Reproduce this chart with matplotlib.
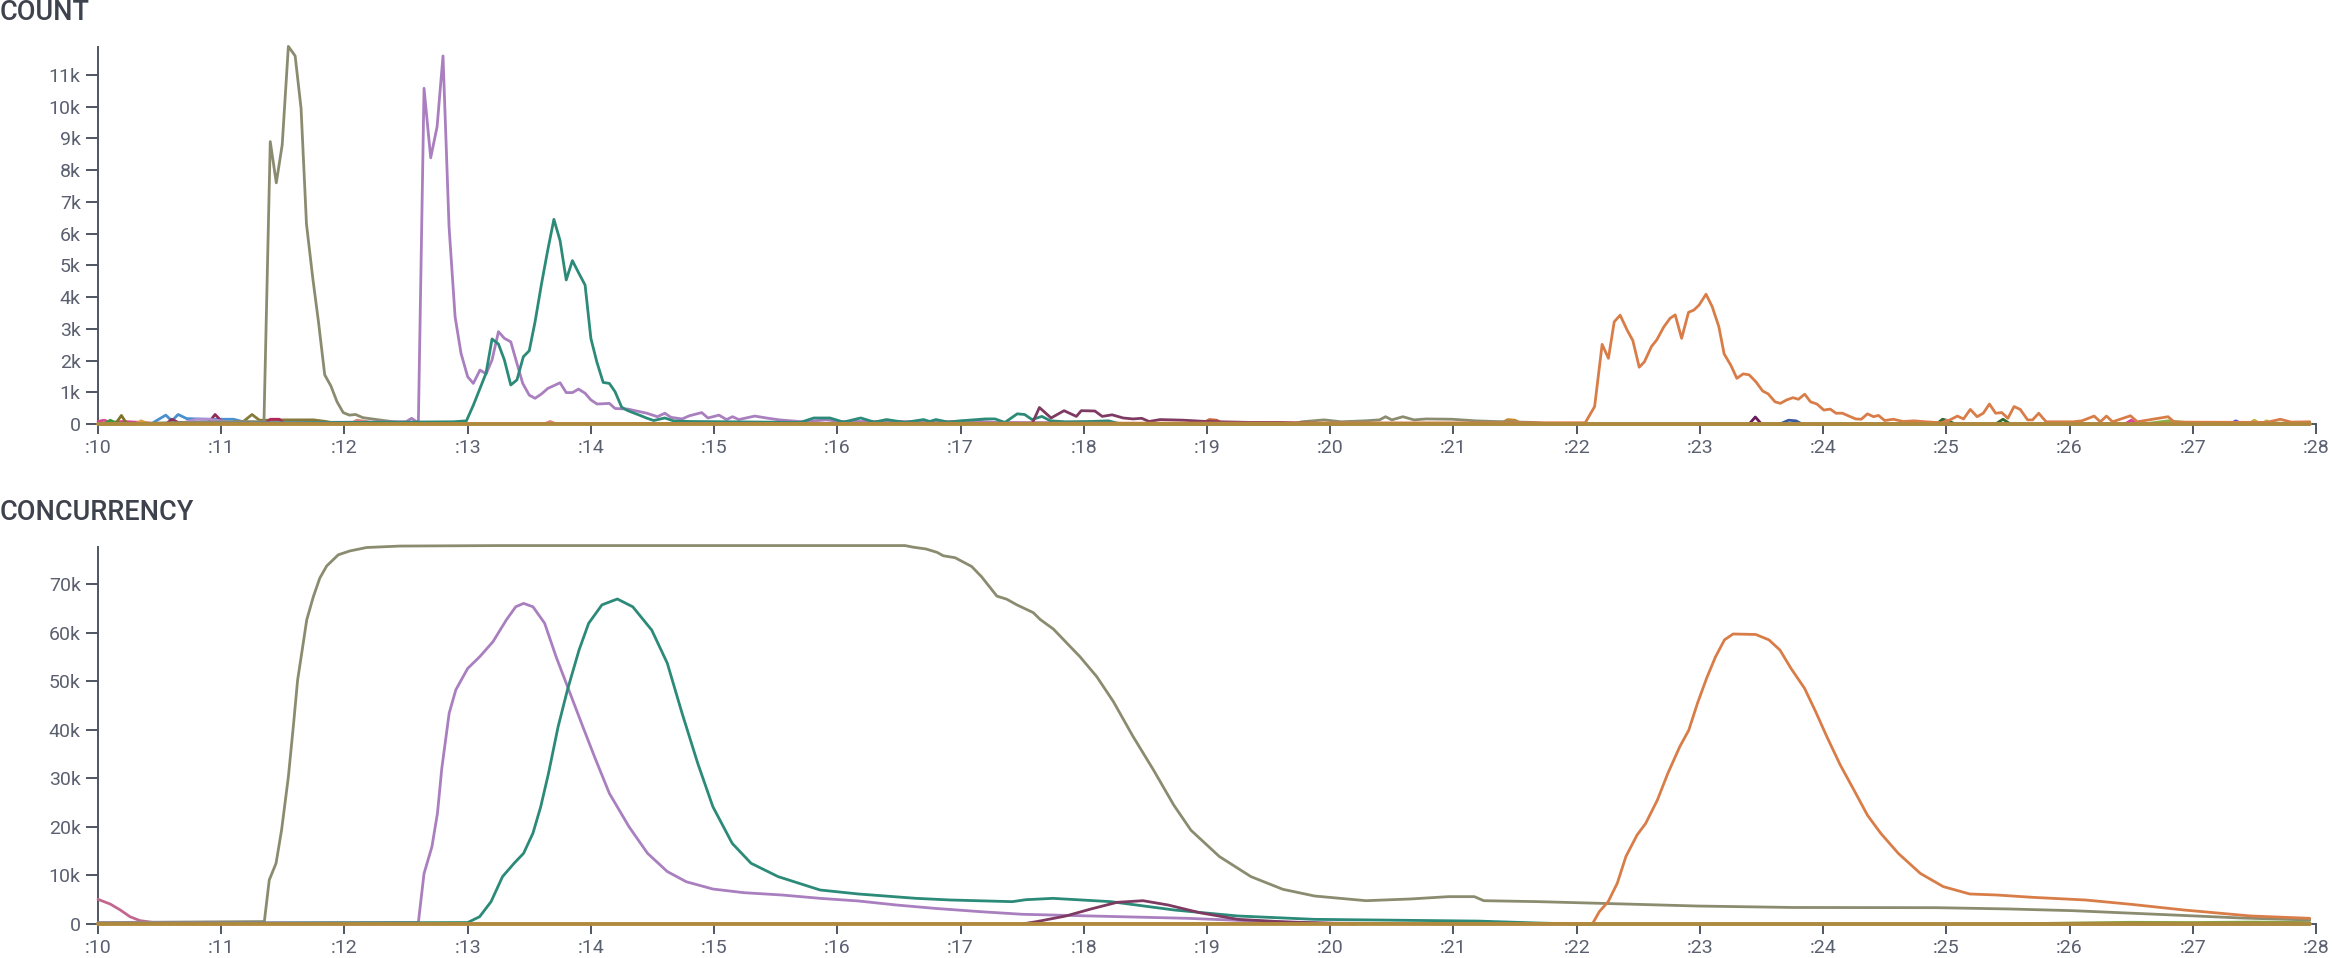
import matplotlib.pyplot as plt
from matplotlib.ticker import FuncFormatter

plt.rcParams['font.family'] = ['Roboto', 'DejaVu Sans']

# time is in minutes past the hour, values are in thousands

# ---- COUNT panel ----
count_olive = [(10.0, 0), (11.2, 0.08), (11.347, 0.07), (11.398, 8.9), (11.447, 7.6), (11.495, 8.8),
               (11.545, 11.9), (11.6, 11.6), (11.648, 9.95), (11.692, 6.3), (11.743, 4.6), (11.79, 3.2),
               (11.84, 1.55), (11.89, 1.2), (11.94, 0.7), (11.99, 0.36), (12.04, 0.28), (12.09, 0.3),
               (12.15, 0.2), (12.28, 0.13), (12.5, 0.02), (12.6, 0), (19.7, 0), (19.77, 0.07),
               (19.95, 0.13), (20.09, 0.07), (20.28, 0.1), (20.4, 0.13), (20.45, 0.23), (20.5, 0.13),
               (20.59, 0.23), (20.68, 0.13), (20.78, 0.16), (20.99, 0.15), (21.18, 0.1), (21.33, 0.08),
               (21.65, 0.05), (21.8, 0), (27.95, 0)]

count_purple = [(10.0, 0), (12.5, 0.07), (12.545, 0.18), (12.6, 0.03), (12.646, 10.58), (12.70, 8.39),
                (12.752, 9.37), (12.80, 11.6), (12.849, 6.22), (12.898, 3.38), (12.946, 2.23), (13.0, 1.49),
                (13.046, 1.28), (13.10, 1.70), (13.15, 1.58), (13.198, 2.02), (13.25, 2.91), (13.298, 2.70),
                (13.35, 2.59), (13.40, 1.91), (13.447, 1.28), (13.50, 0.91), (13.547, 0.81), (13.60, 0.95),
                (13.65, 1.12), (13.70, 1.21), (13.75, 1.30), (13.80, 0.99), (13.85, 0.99), (13.90, 1.10),
                (13.953, 0.97), (14.0, 0.76), (14.05, 0.63), (14.15, 0.65), (14.196, 0.49), (14.30, 0.47),
                (14.454, 0.34), (14.54, 0.23), (14.60, 0.34), (14.65, 0.21), (14.74, 0.16), (14.80, 0.26),
                (14.90, 0.36), (14.95, 0.19), (15.04, 0.28), (15.10, 0.14), (15.15, 0.23), (15.20, 0.14),
                (15.33, 0.25), (15.44, 0.18), (15.53, 0.13), (15.72, 0.07), (15.91, 0.13), (16.03, 0.08),
                (16.49, 0.08), (16.83, 0.07), (17.12, 0.1), (17.27, 0.05), (18.0, 0.04), (18.6, 0), (27.95, 0)]

count_teal = [(10.0, 0), (12.884, 0.07), (12.99, 0.1), (13.047, 0.6), (13.149, 1.6), (13.198, 2.68),
              (13.25, 2.52), (13.298, 2.02), (13.35, 1.23), (13.40, 1.39), (13.452, 2.12), (13.50, 2.31),
              (13.547, 3.22), (13.60, 4.43), (13.65, 5.48), (13.70, 6.45), (13.75, 5.78), (13.80, 4.54),
              (13.85, 5.15), (13.90, 4.77), (13.953, 4.38), (14.0, 2.70), (14.048, 1.96), (14.10, 1.31),
              (14.15, 1.28), (14.196, 1.02), (14.25, 0.53), (14.30, 0.42), (14.34, 0.36), (14.40, 0.27),
              (14.45, 0.19), (14.51, 0.11), (14.60, 0.19), (14.67, 0.1), (14.8, 0.08), (15.7, 0.05),
              (15.81, 0.19), (15.94, 0.19), (16.05, 0.06), (16.19, 0.19), (16.3, 0.06), (16.40, 0.14),
              (16.55, 0.05), (16.70, 0.14), (16.75, 0.08), (16.80, 0.14), (16.9, 0.06), (17.0, 0.1),
              (17.2, 0.16), (17.28, 0.16), (17.36, 0.05), (17.46, 0.32), (17.52, 0.3), (17.58, 0.14),
              (17.66, 0.24), (17.73, 0.1), (17.85, 0.07), (18.06, 0.08), (18.2, 0.1), (18.3, 0), (27.95, 0)]

count_maroon = [(17.58, 0), (17.64, 0.52), (17.735, 0.19), (17.84, 0.42), (17.94, 0.24), (17.98, 0.42),
                (18.09, 0.41), (18.15, 0.24), (18.23, 0.29), (18.32, 0.19), (18.40, 0.16), (18.47, 0.18),
                (18.53, 0.08), (18.62, 0.14), (18.81, 0.12), (18.99, 0.08), (19.35, 0.05), (19.6, 0.05),
                (19.9, 0.02), (20.1, 0)]

count_orange = [(10.0, 0), (22.07, 0.04), (22.146, 0.55), (22.207, 2.51), (22.258, 2.07), (22.305, 3.22),
                (22.353, 3.43), (22.41, 2.96), (22.456, 2.63), (22.508, 1.79), (22.55, 1.96), (22.607, 2.44),
                (22.65, 2.65), (22.706, 3.05), (22.758, 3.33), (22.80, 3.44), (22.852, 2.70), (22.908, 3.52),
                (22.951, 3.59), (22.994, 3.75), (23.05, 4.09), (23.10, 3.70), (23.154, 3.07), (23.197, 2.21),
                (23.253, 1.84), (23.30, 1.44), (23.352, 1.58), (23.40, 1.55), (23.455, 1.33), (23.51, 1.04),
                (23.554, 0.95), (23.61, 0.70), (23.653, 0.65), (23.705, 0.76), (23.756, 0.83), (23.80, 0.78),
                (23.851, 0.94), (23.898, 0.70), (23.95, 0.63), (24.006, 0.44), (24.058, 0.47), (24.105, 0.34),
                (24.157, 0.34), (24.21, 0.25), (24.265, 0.16), (24.31, 0.15), (24.36, 0.32), (24.41, 0.23),
                (24.45, 0.27), (24.50, 0.11), (24.57, 0.15), (24.65, 0.08), (24.74, 0.1), (24.83, 0.07),
                (24.96, 0.04), (25.03, 0.13), (25.09, 0.25), (25.14, 0.16), (25.195, 0.46), (25.25, 0.23),
                (25.30, 0.34), (25.35, 0.63), (25.40, 0.34), (25.45, 0.36), (25.50, 0.18), (25.55, 0.55),
                (25.60, 0.46), (25.66, 0.13), (25.70, 0.13), (25.75, 0.34), (25.81, 0.07), (26.03, 0.07),
                (26.1, 0.1), (26.20, 0.25), (26.25, 0.07), (26.30, 0.25), (26.35, 0.07), (26.495, 0.26),
                (26.55, 0.07), (26.80, 0.23), (26.85, 0.06), (27.6, 0.05), (27.71, 0.15), (27.8, 0.06),
                (27.95, 0.07)]

# small noise series that hug the zero line
count_noise = [
    ('#d04a8c', [(10.0, 0.08), (10.05, 0.12), (10.1, 0.05), (10.2, 0.08), (10.35, 0.05), (10.5, 0)]),
    ('#7d7426', [(10.1, 0), (10.15, 0.05), (10.19, 0.27), (10.23, 0.03), (10.3, 0)]),
    ('#3a9a3a', [(10.05, 0), (10.1, 0.12), (10.15, 0.02), (10.3, 0)]),
    ('#e8a040', [(10.3, 0), (10.35, 0.1), (10.42, 0)]),
    ('#4a90d0', [(10.45, 0.05), (10.55, 0.28), (10.6, 0.1), (10.65, 0.3), (10.72, 0.17), (10.9, 0.15),
                 (11.1, 0.15), (11.2, 0.05), (11.3, 0)]),
    ('#8e2e58', [(10.55, 0), (10.6, 0.15), (10.65, 0.05), (10.9, 0.05), (10.95, 0.3), (11.0, 0.1), (11.05, 0)]),
    ('#b28fd0', [(10.7, 0.05), (10.8, 0.15), (10.9, 0.15), (11.0, 0.1), (11.1, 0)]),
    ('#857a3a', [(11.05, 0), (11.12, 0.08), (11.18, 0.08), (11.25, 0.3), (11.31, 0.12), (11.35, 0.12),
                 (11.5, 0.13), (11.75, 0.13), (11.85, 0.08), (11.95, 0)]),
    ('#b0285a', [(11.35, 0), (11.4, 0.15), (11.47, 0.15), (11.52, 0)]),
    ('#e0857a', [(12.05, 0), (12.1, 0.12), (12.18, 0.08), (12.25, 0)]),
    ('#e0857a', [(13.62, 0), (13.67, 0.08), (13.72, 0)]),
    ('#c8603a', [(18.95, 0), (19.02, 0.14), (19.08, 0.12), (19.13, 0)]),
    ('#c88a30', [(21.38, 0), (21.44, 0.14), (21.5, 0.12), (21.56, 0)]),
    ('#6a1a5a', [(23.4, 0), (23.45, 0.22), (23.5, 0)]),
    ('#3a5aa0', [(23.65, 0), (23.72, 0.12), (23.78, 0.1), (23.83, 0)]),
    ('#2e6a2a', [(24.92, 0), (24.97, 0.15), (25.02, 0.1), (25.07, 0)]),
    ('#2e6a2a', [(25.4, 0), (25.46, 0.15), (25.52, 0)]),
    ('#e070c0', [(24.98, 0), (25.0, 0.12), (25.03, 0)]),
    ('#e040a0', [(26.45, 0), (26.5, 0.12), (26.55, 0)]),
    ('#8ab040', [(26.6, 0), (26.8, 0.1), (27.0, 0.03), (27.5, 0.05), (27.95, 0)]),
    ('#5050e0', [(27.3, 0), (27.35, 0.1), (27.4, 0)]),
    ('#c0b040', [(27.45, 0), (27.5, 0.12), (27.55, 0), (27.6, 0.1), (27.65, 0)]),
]

# ---- CONCURRENCY panel ----
conc_olive = [(10.0, 0.3), (11.35, 0.5), (11.39, 9.06), (11.445, 12.5), (11.49, 19.35), (11.545, 30.3),
              (11.585, 40.6), (11.62, 50.2), (11.653, 55.7), (11.694, 62.6), (11.748, 67.4), (11.80, 71.2),
              (11.856, 73.7), (11.95, 76.0), (12.045, 76.8), (12.18, 77.5), (12.45, 77.8), (13.25, 77.9),
              (16.55, 77.9), (16.62, 77.55), (16.72, 77.2), (16.81, 76.5), (16.86, 75.8), (16.956, 75.4),
              (17.09, 73.6), (17.17, 71.5), (17.295, 67.5), (17.376, 66.85), (17.457, 65.7), (17.59, 64.1),
              (17.646, 62.7), (17.754, 60.7), (17.86, 57.9), (17.97, 55.0), (18.106, 50.9), (18.24, 45.8),
              (18.40, 38.6), (18.566, 31.7), (18.73, 24.5), (18.87, 19.3), (19.10, 13.9), (19.357, 9.75),
              (19.616, 7.14), (19.874, 5.76), (20.29, 4.8), (20.65, 5.15), (20.96, 5.63), (21.17, 5.63),
              (21.246, 4.8), (21.69, 4.6), (22.20, 4.25), (22.98, 3.7), (23.757, 3.4), (24.92, 3.36),
              (25.5, 3.1), (26.02, 2.75), (26.845, 1.85), (27.39, 1.24), (27.95, 0.82)]

conc_purple = [(10.0, 0.2), (12.6, 0.3), (12.646, 10.4), (12.71, 15.9), (12.755, 22.8), (12.79, 32.0),
               (12.85, 43.4), (12.904, 48.2), (13.0, 52.6), (13.097, 55.0), (13.205, 58.1), (13.314, 62.6),
               (13.39, 65.3), (13.454, 66.0), (13.53, 65.3), (13.625, 61.9), (13.718, 55.0), (13.81, 48.9),
               (13.935, 40.6), (14.03, 34.4), (14.15, 26.9), (14.31, 20.0), (14.46, 14.55), (14.62, 10.8),
               (14.774, 8.7), (14.99, 7.2), (15.24, 6.45), (15.55, 5.97), (15.86, 5.28), (16.17, 4.74),
               (16.48, 3.91), (16.79, 3.22), (17.16, 2.54), (17.5, 2.0), (18.06, 1.65), (18.84, 1.17),
               (19.5, 0.5), (20.0, 0.2), (21.0, 0), (27.95, 0)]

conc_teal = [(10.0, 0.1), (13.0, 0.3), (13.097, 1.5), (13.19, 4.6), (13.283, 9.75), (13.377, 12.5),
             (13.454, 14.55), (13.53, 18.7), (13.593, 24.15), (13.656, 31.0), (13.734, 40.6), (13.81, 48.2),
             (13.904, 56.4), (13.982, 61.9), (14.09, 65.7), (14.215, 66.9), (14.34, 65.3), (14.494, 60.5),
             (14.62, 53.7), (14.74, 43.4), (14.867, 33.1), (14.99, 24.15), (15.147, 16.6), (15.30, 12.5),
             (15.52, 9.75), (15.86, 7.0), (16.17, 6.18), (16.64, 5.28), (16.92, 4.94), (17.42, 4.6),
             (17.53, 5.0), (17.75, 5.28), (18.22, 4.6), (18.735, 2.88), (19.25, 1.65), (19.87, 0.96),
             (21.2, 0.6), (21.69, 0.2), (22.0, 0), (27.95, 0)]

conc_maroon = [(17.5, 0), (17.62, 0.5), (17.855, 1.65), (18.06, 3.1), (18.27, 4.46), (18.48, 4.8),
               (18.685, 3.91), (18.94, 2.33), (19.25, 0.96), (19.66, 0.4), (20.2, 0)]

conc_pink = [(10.0, 5.08), (10.1, 4.1), (10.18, 2.9), (10.26, 1.5), (10.34, 0.7), (10.45, 0.3),
             (10.6, 0.1), (11.0, 0)]

conc_orange = [(10.0, 0), (22.13, 0.1), (22.184, 2.54), (22.256, 4.6), (22.33, 8.4), (22.40, 13.9),
               (22.49, 18.3), (22.56, 20.7), (22.655, 25.5), (22.74, 31.0), (22.837, 36.5), (22.91, 39.9),
               (22.98, 45.4), (23.055, 50.6), (23.127, 55.0), (23.20, 58.5), (23.27, 59.7), (23.453, 59.6),
               (23.56, 58.5), (23.65, 56.4), (23.74, 52.6), (23.85, 48.5), (23.94, 43.7), (24.03, 38.6),
               (24.14, 32.7), (24.25, 27.6), (24.36, 22.4), (24.467, 18.7), (24.61, 14.55), (24.79, 10.4),
               (24.975, 7.7), (25.19, 6.18), (25.41, 5.97), (25.70, 5.49), (26.13, 4.94), (26.50, 4.05),
               (26.93, 2.88), (27.47, 1.65), (27.95, 1.17)]

conc_noise = [
    ('#8aa040', [(25.5, 0), (26.0, 0.2), (26.5, 0.35), (27.0, 0.3), (27.5, 0.4), (27.95, 0.3)]),
]

baseline_gold = [(10.0, 0), (27.95, 0)]

OLIVE = '#8b8c6f'
PURPLE = '#a97fbf'
TEAL = '#2b8a78'
MAROON = '#7e3a62'
PINK = '#c2688f'
ORANGE = '#d97d48'
GOLD = '#b08a3c'
AXIS = '#4f5562'
TICKTXT = '#5b6070'
TITLE = '#3d424d'


def draw(ax, pairs, color, lw=2.0, z=3):
    t = [p[0] for p in pairs]
    v = [p[1] for p in pairs]
    ax.plot(t, v, color=color, lw=lw, clip_on=False, zorder=z,
            solid_joinstyle='round', solid_capstyle='round')


def style(ax, ymax, yticks):
    ax.set_xlim(10, 28)
    ax.set_ylim(0, ymax)
    for s in ['top', 'right']:
        ax.spines[s].set_visible(False)
    for s in ['left', 'bottom']:
        ax.spines[s].set_color(AXIS)
        ax.spines[s].set_linewidth(1.4)
    ax.set_yticks(yticks)
    ax.yaxis.set_major_formatter(FuncFormatter(lambda v, _: '0' if v == 0 else f'{int(v)}k'))
    ax.set_xticks(range(10, 29))
    ax.set_xticklabels([f':{m}' for m in range(10, 29)])
    ax.tick_params(axis='y', length=8.5, width=1.4, color=AXIS, labelcolor=TICKTXT, labelsize=14, pad=4)
    ax.tick_params(axis='x', length=7, width=1.4, color=AXIS, labelcolor=TICKTXT, labelsize=14, pad=4)


fig = plt.figure(figsize=(23.32, 9.58), dpi=100)
ax1 = fig.add_axes([0.04202, 0.5574, 0.9511, 0.3935])
ax2 = fig.add_axes([0.04202, 0.03549, 0.9511, 0.3935])

for color, pairs in count_noise:
    draw(ax1, pairs, color)
draw(ax1, count_olive, OLIVE)
draw(ax1, count_purple, PURPLE)
draw(ax1, count_teal, TEAL)
draw(ax1, count_maroon, MAROON)
draw(ax1, count_orange, ORANGE)
draw(ax1, baseline_gold, GOLD, lw=2.7, z=4)
style(ax1, 11.88, range(0, 12))

for color, pairs in conc_noise:
    draw(ax2, pairs, color)
draw(ax2, conc_pink, PINK)
draw(ax2, conc_olive, OLIVE)
draw(ax2, conc_purple, PURPLE)
draw(ax2, conc_teal, TEAL)
draw(ax2, conc_maroon, MAROON)
draw(ax2, conc_orange, ORANGE)
draw(ax2, baseline_gold, GOLD, lw=2.7, z=4)
style(ax2, 77.6, range(0, 80, 10))

fig.text(0.0, 1 - 12 / 958, 'COUNT', fontsize=19.5, fontweight='medium', color=TITLE, va='center', ha='left')
fig.text(0.0, 1 - 512 / 958, 'CONCURRENCY', fontsize=19.5, fontweight='medium', color=TITLE,
         va='center', ha='left')

fig.savefig('out.png', dpi=100)
